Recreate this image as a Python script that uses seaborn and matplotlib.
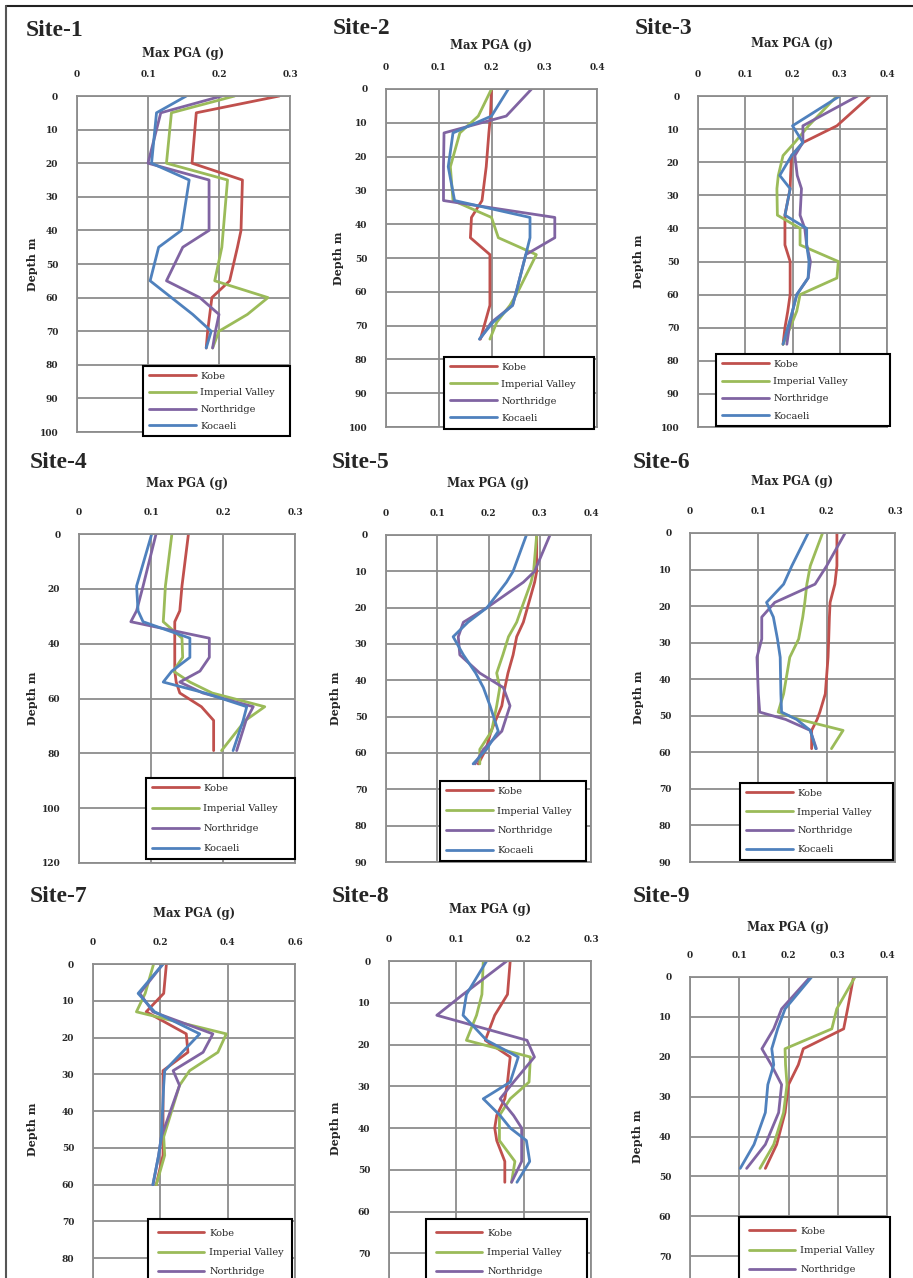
import numpy as np
import pandas as pd
import matplotlib
matplotlib.use("Agg")
import matplotlib.pyplot as plt
import seaborn as sns
from matplotlib.lines import Line2D
from matplotlib.ticker import FuncFormatter, MultipleLocator

# ---------------- data ----------------
quakes = ["Kobe", "Imperial Valley", "Northridge", "Kocaeli"]
colors = ["#C0504D", "#9BBB59", "#8064A2", "#4F81BD"]

site1_depth = [0, 5, 20, 25, 40, 45, 55, 60, 65, 70, 75]
site1_kobe = [0.285, 0.168, 0.162, 0.233, 0.231, 0.226, 0.215, 0.190, 0.187, 0.184, 0.182]
site1_imperial = [0.222, 0.133, 0.126, 0.212, 0.206, 0.204, 0.194, 0.269, 0.240, 0.200, 0.191]
site1_northridge = [0.204, 0.118, 0.100, 0.186, 0.186, 0.149, 0.126, 0.173, 0.200, 0.195, 0.191]
site1_kocaeli = [0.154, 0.112, 0.105, 0.158, 0.147, 0.115, 0.103, 0.133, 0.163, 0.189, 0.182]

site2_depth = [0, 8, 13, 23, 33, 38, 44, 49, 60, 64, 69, 74]
site2_kobe = [0.200, 0.198, 0.195, 0.190, 0.182, 0.162, 0.160, 0.197, 0.197, 0.197, 0.188, 0.179]
site2_imperial = [0.200, 0.175, 0.140, 0.122, 0.127, 0.200, 0.213, 0.285, 0.250, 0.235, 0.210, 0.197]
site2_northridge = [0.276, 0.228, 0.110, 0.109, 0.109, 0.320, 0.320, 0.265, 0.247, 0.240, 0.200, 0.178]
site2_kocaeli = [0.232, 0.200, 0.127, 0.118, 0.130, 0.273, 0.273, 0.265, 0.247, 0.240, 0.203, 0.177]

site3_depth = [0, 9, 14, 18, 24, 28, 36, 40, 45, 50, 55, 60, 65, 70, 75]
site3_kobe = [0.364, 0.294, 0.223, 0.198, 0.196, 0.195, 0.184, 0.184, 0.184, 0.195, 0.195, 0.195, 0.190, 0.184, 0.180]
site3_imperial = [0.294, 0.234, 0.205, 0.180, 0.170, 0.167, 0.168, 0.216, 0.216, 0.297, 0.294, 0.216, 0.209, 0.195, 0.180]
site3_northridge = [0.338, 0.222, 0.222, 0.205, 0.210, 0.219, 0.216, 0.226, 0.230, 0.238, 0.233, 0.209, 0.200, 0.193, 0.188]
site3_kocaeli = [0.300, 0.200, 0.222, 0.198, 0.173, 0.195, 0.184, 0.230, 0.230, 0.235, 0.233, 0.209, 0.200, 0.190, 0.180]

site4_depth = [0, 19, 28, 32, 38, 45, 50, 54, 58, 63, 68, 79]
site4_kobe = [0.152, 0.143, 0.140, 0.133, 0.133, 0.133, 0.133, 0.135, 0.140, 0.170, 0.187, 0.187]
site4_imperial = [0.129, 0.120, 0.118, 0.117, 0.143, 0.144, 0.131, 0.154, 0.185, 0.258, 0.231, 0.198]
site4_northridge = [0.107, 0.089, 0.080, 0.072, 0.181, 0.181, 0.168, 0.140, 0.172, 0.242, 0.232, 0.219]
site4_kocaeli = [0.101, 0.080, 0.082, 0.089, 0.154, 0.154, 0.129, 0.117, 0.175, 0.233, 0.228, 0.214]

site5_depth = [0, 10, 13, 20, 24, 28, 33, 38, 42, 47, 54, 59, 63]
site5_kobe = [0.294, 0.294, 0.290, 0.276, 0.268, 0.255, 0.248, 0.238, 0.232, 0.226, 0.205, 0.195, 0.180]
site5_imperial = [0.294, 0.288, 0.283, 0.265, 0.255, 0.239, 0.228, 0.216, 0.222, 0.216, 0.206, 0.183, 0.183]
site5_northridge = [0.320, 0.290, 0.268, 0.197, 0.151, 0.141, 0.144, 0.183, 0.229, 0.242, 0.226, 0.190, 0.174]
site5_kocaeli = [0.274, 0.248, 0.235, 0.197, 0.160, 0.131, 0.151, 0.175, 0.190, 0.203, 0.219, 0.196, 0.170]

site6_depth = [0, 9, 14, 19, 23, 29, 34, 44, 49, 51, 54, 59]
site6_kobe = [0.215, 0.215, 0.212, 0.205, 0.204, 0.203, 0.202, 0.198, 0.190, 0.186, 0.178, 0.178]
site6_imperial = [0.194, 0.176, 0.171, 0.168, 0.165, 0.159, 0.146, 0.137, 0.129, 0.160, 0.224, 0.207]
site6_northridge = [0.227, 0.200, 0.183, 0.124, 0.105, 0.105, 0.098, 0.100, 0.102, 0.140, 0.176, 0.185]
site6_kocaeli = [0.173, 0.149, 0.137, 0.112, 0.122, 0.128, 0.132, 0.133, 0.134, 0.156, 0.176, 0.184]

site7_depth = [0, 8, 13, 19, 24, 29, 33, 47, 52, 60]
site7_kobe = [0.218, 0.210, 0.158, 0.277, 0.282, 0.208, 0.208, 0.208, 0.208, 0.188]
site7_imperial = [0.180, 0.155, 0.129, 0.396, 0.371, 0.287, 0.257, 0.210, 0.213, 0.188]
site7_northridge = [0.208, 0.139, 0.178, 0.356, 0.327, 0.238, 0.257, 0.203, 0.195, 0.178]
site7_kocaeli = [0.208, 0.134, 0.183, 0.317, 0.265, 0.213, 0.210, 0.203, 0.195, 0.178]

site8_depth = [0, 8, 13, 19, 23, 29, 33, 37, 40, 43, 48, 53]
site8_kobe = [0.180, 0.176, 0.157, 0.143, 0.180, 0.176, 0.172, 0.160, 0.157, 0.160, 0.172, 0.172]
site8_imperial = [0.140, 0.138, 0.130, 0.115, 0.210, 0.208, 0.180, 0.164, 0.164, 0.164, 0.187, 0.182]
site8_northridge = [0.175, 0.110, 0.071, 0.205, 0.216, 0.185, 0.165, 0.185, 0.197, 0.197, 0.197, 0.182]
site8_kocaeli = [0.145, 0.115, 0.110, 0.145, 0.192, 0.180, 0.140, 0.165, 0.180, 0.204, 0.209, 0.190]

site9_depth = [0, 8, 13, 18, 22, 27, 34, 42, 48]
site9_kobe = [0.332, 0.320, 0.312, 0.230, 0.220, 0.200, 0.193, 0.176, 0.153]
site9_imperial = [0.335, 0.298, 0.288, 0.193, 0.194, 0.197, 0.190, 0.170, 0.142]
site9_northridge = [0.244, 0.186, 0.170, 0.146, 0.165, 0.186, 0.180, 0.153, 0.115]
site9_kocaeli = [0.247, 0.193, 0.178, 0.166, 0.170, 0.158, 0.153, 0.130, 0.102]

site_names = ["Site-1", "Site-2", "Site-3", "Site-4", "Site-5", "Site-6", "Site-7", "Site-8", "Site-9"]
x_max = [0.3, 0.4, 0.4, 0.3, 0.4, 0.3, 0.6, 0.3, 0.4]
x_step = [0.1, 0.1, 0.1, 0.1, 0.1, 0.1, 0.2, 0.1, 0.1]
y_max = [100, 100, 100, 120, 90, 90, 90, 80, 80]
y_step = [10, 10, 10, 20, 10, 10, 10, 10, 10]

site_data = [
    (site1_depth, [site1_kobe, site1_imperial, site1_northridge, site1_kocaeli]),
    (site2_depth, [site2_kobe, site2_imperial, site2_northridge, site2_kocaeli]),
    (site3_depth, [site3_kobe, site3_imperial, site3_northridge, site3_kocaeli]),
    (site4_depth, [site4_kobe, site4_imperial, site4_northridge, site4_kocaeli]),
    (site5_depth, [site5_kobe, site5_imperial, site5_northridge, site5_kocaeli]),
    (site6_depth, [site6_kobe, site6_imperial, site6_northridge, site6_kocaeli]),
    (site7_depth, [site7_kobe, site7_imperial, site7_northridge, site7_kocaeli]),
    (site8_depth, [site8_kobe, site8_imperial, site8_northridge, site8_kocaeli]),
    (site9_depth, [site9_kobe, site9_imperial, site9_northridge, site9_kocaeli]),
]

# ---------------- layout (pixels) ----------------
W, H = 913, 1278
# axes boxes: left, top, right, bottom (bottom row runs past the page edge)
ax_box = [
    (77, 96, 290, 432), (386, 89, 597, 427), (698, 96, 887, 427),
    (79, 534, 295, 863), (386, 535, 591, 862), (690, 533, 895, 862),
    (93, 964, 295, 1295), (389, 961, 591, 1295), (690, 977, 887, 1296),
]
# last tick that is still visible on the page
tick_last = [100, 100, 100, 120, 90, 90, 80, 70, 70]
title_pos = [(26, 30), (333, 28), (635, 28), (30, 463), (332, 463), (633, 463),
             (30, 897), (332, 897), (633, 897)]
xlabel_off = [42, 43, 52, 51, 52, 51, 51, 51, 50]
ylabel_x = [33, 338, 638, 33, 335, 638, 33, 335, 637]
# legend: left, top, right, label spacing, entries visible on the page
leg_box = [
    (143, 366, 290, 0.78, 4), (444, 357, 594, 0.82, 4), (716, 354, 890, 0.85, 4),
    (146, 778, 295, 1.14, 4), (440, 781, 586, 1.1, 4), (740, 783, 893, 1.0, 4),
    (148, 1219, 292, 1.05, 3), (426, 1219, 587, 1.05, 3), (739, 1217, 890, 1.05, 3),
]

sns.set_style("white")
plt.rcParams["font.family"] = ["DejaVu Serif"]

fig = plt.figure(figsize=(W / 100, H / 100), dpi=100)
fig.patch.set_facecolor("white")

grid_c = "#8c8c8c"

for i in range(9):
    l, t, r, b = ax_box[i]
    ax = fig.add_axes([l / W, 1 - b / H, (r - l) / W, (b - t) / H])
    depth, series = site_data[i]
    df = pd.concat(
        [pd.DataFrame({"depth": depth, "pga": vals, "quake": q}) for q, vals in zip(quakes, series)],
        ignore_index=True,
    )
    sns.lineplot(data=df, x="pga", y="depth", hue="quake", hue_order=quakes,
                 palette=colors, sort=False, estimator=None, orient="y",
                 linewidth=2.0, ax=ax, legend=True)
    ax.set_xlim(0, x_max[i])
    ax.set_ylim(y_max[i], 0)
    ax.xaxis.set_major_locator(MultipleLocator(x_step[i]))
    ax.set_yticks(np.arange(0, tick_last[i] + 1, y_step[i]))
    ax.set_ylim(y_max[i], 0)
    ax.xaxis.set_major_formatter(FuncFormatter(lambda v, p: "0" if abs(v) < 1e-9 else f"{v:.1f}"))
    ax.yaxis.set_major_formatter(FuncFormatter(lambda v, p: f"{int(round(v))}"))
    ax.xaxis.tick_top()
    ax.tick_params(axis="x", length=0, pad=12.5, labelsize=6.5)
    ax.tick_params(axis="y", length=0, pad=13.5, labelsize=6.5)
    for lab in ax.get_xticklabels() + ax.get_yticklabels():
        lab.set_fontweight("bold")
    ax.grid(True, color=grid_c, linewidth=1.3)
    ax.set_axisbelow(True)
    for s in ax.spines.values():
        s.set_color(grid_c)
        s.set_linewidth(1.3)
    ax.set_xlabel("")
    ax.set_ylabel("")
    ax.set_facecolor("white")

    # titles & labels
    tx, ty = title_pos[i]
    fig.text(tx / W, 1 - ty / H, site_names[i], ha="left", va="center",
             fontsize=17, fontweight="bold", family="Liberation Serif")
    fig.text(((l + r) / 2) / W, 1 - (t - xlabel_off[i]) / H, "Max PGA (g)",
             ha="center", va="center", fontsize=8.4, fontweight="bold")
    fig.text(ylabel_x[i] / W, 1 - ((t + b) / 2) / H, "Depth m", rotation=90,
             ha="center", va="center", fontsize=8, fontweight="bold")

    # legend
    handles, labels = ax.get_legend_handles_labels()
    ll, lt, lr, lsp, nshow = leg_box[i]
    leg = ax.legend(handles[:nshow], labels[:nshow], loc="upper left",
                    bbox_to_anchor=(ll / W, 1 - lt / H, (lr - ll) / W, 0),
                    bbox_transform=fig.transFigure, mode="expand", borderaxespad=0,
                    frameon=True, fancybox=False, edgecolor="black", framealpha=1,
                    fontsize=7, handlelength=4.8, handletextpad=0.5,
                    labelspacing=lsp, borderpad=0.6 if nshow == 4 else 1.0)
    leg.get_frame().set_linewidth(1.5)
    for h in leg.get_lines():
        h.set_linewidth(2.0)

# page border
fig.add_artist(Line2D([6 / W, 1], [1 - 6 / H, 1 - 6 / H], transform=fig.transFigure,
                      color="#222222", linewidth=1.5))
fig.add_artist(Line2D([6 / W, 6 / W], [1 - 6 / H, 0], transform=fig.transFigure,
                      color="#555555", linewidth=1.5))

fig.savefig("out.png", dpi=100, facecolor="white")
